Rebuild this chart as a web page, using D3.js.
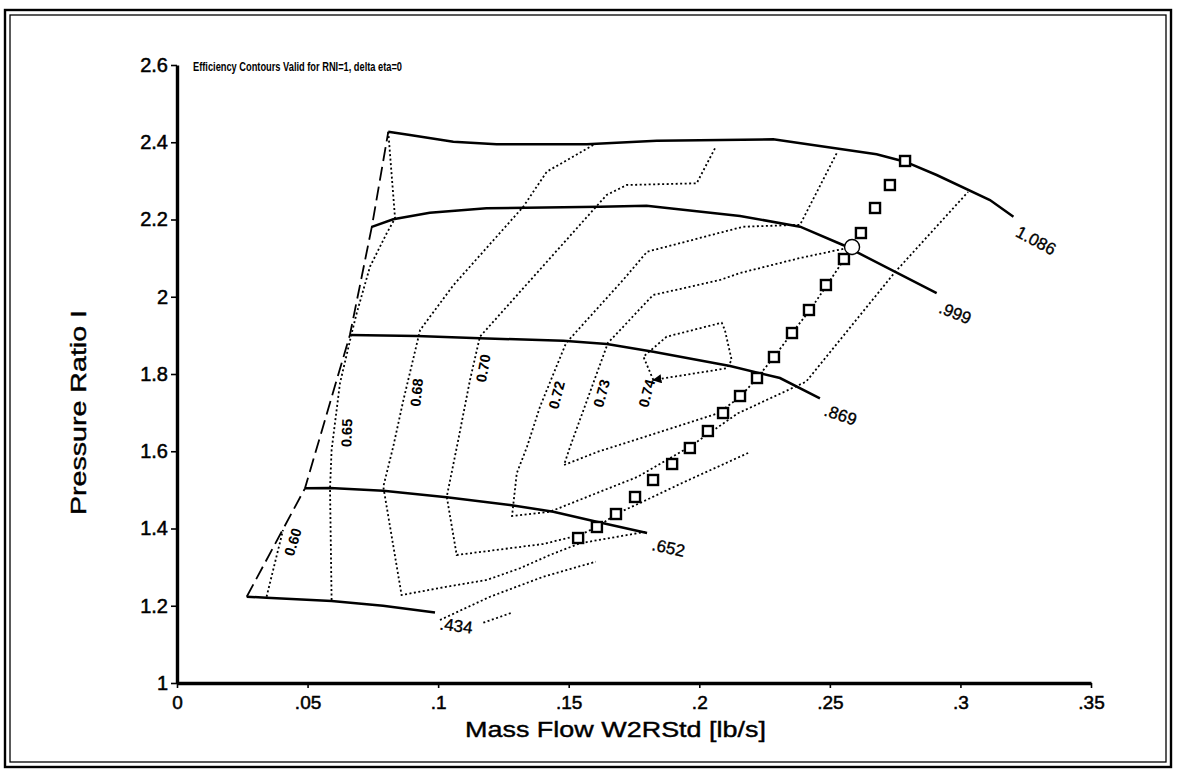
<!DOCTYPE html>
<html><head><meta charset="utf-8">
<script src="https://cdn.jsdelivr.net/npm/d3@7"></script>
<style>body{margin:0;background:#fff}svg{display:block}</style>
</head><body><svg id="c" width="1177" height="775"></svg>
<script>
// ---------- data ----------
const xTicks = [0, 0.05, 0.1, 0.15, 0.2, 0.25, 0.3, 0.35];
const xTickLabels = ["0", ".05", ".1", ".15", ".2", ".25", ".3", ".35"];
const yTicks = [1, 1.2, 1.4, 1.6, 1.8, 2, 2.2, 2.4, 2.6];
const yTickLabels = ["1", "1.2", "1.4", "1.6", "1.8", "2", "2.2", "2.4", "2.6"];

const surgeLine = [[0.0267,1.2234],[0.0490,1.504],[0.0662,1.901],[0.0746,2.181],[0.0809,2.427]];

const speedNames = [".434", ".652", ".869", ".999", "1.086"];
const speed434 = [[0.0267,1.2234],[0.0343,1.2208],[0.0592,1.2123],[0.0789,1.2001],[0.0988,1.1825]];
const speed652 = [[0.0490,1.504],[0.0586,1.5048],[0.0790,1.4979],[0.1033,1.4808],[0.1275,1.4608],[0.1441,1.4435],[0.1607,1.4176],[0.1800,1.3883]];
const speed869 = [[0.0662,1.901],[0.0918,1.8984],[0.1160,1.8924],[0.1479,1.8862],[0.1646,1.8777],[0.1824,1.8577],[0.2118,1.8207],[0.2309,1.7896],[0.2462,1.737]];
const speed999 = [[0.0746,2.181],[0.0828,2.2005],[0.0968,2.2177],[0.1185,2.2291],[0.1620,2.2332],[0.1798,2.2358],[0.2156,2.2091],[0.2386,2.1815],[0.2550,2.1340],[0.2909,2.0091]];
const speed1086 = [[0.0809,2.4273],[0.0892,2.4188],[0.1058,2.4014],[0.1224,2.3947],[0.1569,2.3947],[0.1837,2.404],[0.2283,2.4076],[0.2679,2.3687],[0.2788,2.3496],[0.2909,2.3152],[0.3113,2.2504],[0.3203,2.2072]];

const effNames = ["0.60", "0.65", "0.68", "0.70", "0.72", "0.73", "0.74"];
const eff060 = [[0.0343,1.2234],[0.0406,1.3961]];
const eff060b = [[0.1173,1.1561],[0.1282,1.1820]];
const eff065 = [[0.0809,2.4273],[0.0835,2.2031],[0.0803,2.1643],[0.0739,2.0778],[0.0688,1.9572],[0.0669,1.9054],[0.0624,1.7759],[0.0592,1.6032],[0.0586,1.5041],[0.0592,1.2149]];
const eff065b = [[0.1007,1.1631],[0.1199,1.2234],[0.1403,1.2752],[0.1604,1.3140]];
const eff068 = [[0.1594,2.3929],[0.1416,2.3238],[0.1326,2.2331],[0.1059,2.0304],[0.0931,1.9139],[0.0867,1.7327],[0.0828,1.6118],[0.0790,1.5082],[0.0860,1.2278],[0.1033,1.2493],[0.1186,1.2667],[0.1313,1.2970],[0.1428,1.3314],[0.1543,1.3617],[0.1796,1.3917]];
const eff070 = [[0.2060,2.3843],[0.1990,2.2937],[0.1722,2.2893],[0.1645,2.2634],[0.1160,1.8966],[0.1122,1.7845],[0.1077,1.6291],[0.1033,1.4823],[0.1071,1.3314],[0.1402,1.3599],[0.1543,1.3832],[0.1608,1.4039],[0.1689,1.4401],[0.1773,1.4660],[0.1934,1.5178],[0.2187,1.5955]];
const eff072 = [[0.2526,2.3714],[0.2386,2.1864],[0.2167,2.1812],[0.1800,2.1165],[0.1709,2.0440],[0.1490,1.8803],[0.1390,1.7153],[0.1340,1.6110],[0.1301,1.5429],[0.1283,1.4324],[0.1428,1.4435],[0.1765,1.5341],[0.1964,1.6118],[0.2148,1.6983],[0.2409,1.7801],[0.2750,2.0641],[0.3029,2.2712]];
const eff073 = [[0.2585,2.1288],[0.2386,2.1003],[0.2156,2.0615],[0.2079,2.0434],[0.1823,2.0045],[0.1650,1.8803],[0.1505,1.6110],[0.1482,1.5644],[0.1612,1.5988],[0.1873,1.6550],[0.2072,1.6983],[0.2156,1.7405],[0.2221,1.7896],[0.2286,1.8440],[0.2355,1.9061],[0.2424,1.9657],[0.2489,2.0304],[0.2558,2.1003],[0.2585,2.1288]];
const eff074Loop = [[0.1824,1.7845],[0.1786,1.8448],[0.1875,1.8966],[0.2086,1.9328],[0.2098,1.9139],[0.2124,1.8362],[0.2105,1.8148],[0.1824,1.7845]];
const effLabelAt = [[0.0444,1.3650],[0.0650,1.6473],[0.0918,1.7521],[0.1173,1.8148],[0.1454,1.7456],[0.1626,1.7500],[0.1799,1.7500]];

const opFlow = [0.1536,0.1608,0.1681,0.1754,0.1823,0.1896,0.1964,0.2033,0.2091,0.2156,0.2221,0.2286,0.2355,0.2420,0.2485,0.2554,0.2619,0.2673,0.2730,0.2788];
const opPR   = [1.3754,1.4039,1.4375,1.4816,1.5256,1.5670,1.6084,1.6524,1.6990,1.7430,1.7896,1.8440,1.9061,1.9657,2.0304,2.0977,2.1650,2.2298,2.2893,2.3515];
const designPoint = [0.2585, 2.1288];

const titleText = "Efficiency Contours Valid for RNI=1, delta eta=0";
const xTitle = "Mass Flow W2RStd [lb/s]";
const yTitle = "Pressure Ratio I";

// ---------- drawing ----------
const svg = d3.select("#c");
const FONT = "'Liberation Sans', Arial, sans-serif";
svg.append("rect").attr("width",1177).attr("height",775).attr("fill","#fff");

// frame (double border)
svg.append("rect").attr("x",5).attr("y",10).attr("width",1166).attr("height",757)
  .attr("fill","none").attr("stroke","#000").attr("stroke-width",2.4);
svg.append("rect").attr("x",10).attr("y",15).attr("width",1156).attr("height",747)
  .attr("fill","none").attr("stroke","#000").attr("stroke-width",1.3);

const x = d3.scaleLinear().domain([0, 0.35]).range([177, 1091]);
const y = d3.scaleLinear().domain([1, 2.6]).range([683, 65]);
const line = d3.line().x(d => x(d[0])).y(d => y(d[1]));

// axes
const xAxis = d3.axisBottom(x).tickValues(xTicks).tickFormat((d,i)=>xTickLabels[i]).tickSize(5).tickSizeOuter(0);
const gx = svg.append("g").attr("transform","translate(0,683)").call(xAxis);
gx.select(".domain").attr("stroke-width",3.4);
gx.selectAll(".tick line").attr("stroke-width",1.6);
gx.selectAll("text").attr("font-family",FONT).attr("font-size",19).attr("fill","#000")
  .attr("stroke","#000").attr("stroke-width",0.5).attr("dy","0.95em");

const yAxis = d3.axisLeft(y).tickValues(yTicks).tickFormat((d,i)=>yTickLabels[i]).tickSize(6).tickSizeOuter(0);
const gy = svg.append("g").attr("transform","translate(177,0)").call(yAxis);
gy.select(".domain").attr("stroke-width",3.4);
gy.selectAll(".tick line").attr("stroke-width",1.6);
gy.selectAll("text").attr("font-family",FONT).attr("font-size",20).attr("fill","#000")
  .attr("stroke","#000").attr("stroke-width",0.5).attr("x",-9);

// titles
svg.append("text").attr("x",193).attr("y",71).attr("font-family",FONT).attr("font-size",13)
  .attr("font-weight","bold").attr("textLength",209).attr("lengthAdjust","spacingAndGlyphs").text(titleText);
svg.append("text").attr("x",465).attr("y",737).attr("font-family",FONT).attr("font-size",22)
  .attr("stroke","#000").attr("stroke-width",0.4)
  .attr("textLength",301).attr("lengthAdjust","spacingAndGlyphs").text(xTitle);
svg.append("text").attr("transform","translate(86,515) rotate(-90)").attr("font-family",FONT).attr("font-size",22)
  .attr("stroke","#000").attr("stroke-width",0.4)
  .attr("textLength",205).attr("lengthAdjust","spacingAndGlyphs").text(yTitle);

const plot = svg.append("g");

// efficiency contours (dotted)
const dotted = [eff060, eff060b, eff065, eff065b, eff068, eff070, eff072, eff073];
plot.selectAll("path.eff").data(dotted).join("path").attr("class","eff")
  .attr("d", line).attr("fill","none").attr("stroke","#000").attr("stroke-width",1.8)
  .attr("stroke-dasharray","2,2.5");

// 0.74 island with arrow head
svg.append("defs").append("marker").attr("id","arr").attr("viewBox","0 0 10 10")
  .attr("refX",9).attr("refY",5).attr("markerWidth",9).attr("markerHeight",9)
  .attr("markerUnits","userSpaceOnUse").attr("orient","auto")
  .append("path").attr("d","M0,0 L10,5 L0,10 z").attr("fill","#000");
plot.append("path").attr("d", line(eff074Loop)).attr("fill","none").attr("stroke","#000")
  .attr("stroke-width",1.8).attr("stroke-dasharray","2,2.5").attr("marker-end","url(#arr)");

// surge line (dashed)
plot.append("path").attr("d", line(surgeLine)).attr("fill","none").attr("stroke","#000")
  .attr("stroke-width",1.8).attr("stroke-dasharray","14,6");

// speed lines (solid)
const speeds = [speed434, speed652, speed869, speed999, speed1086];
plot.selectAll("path.spd").data(speeds).join("path").attr("class","spd")
  .attr("d", line).attr("fill","none").attr("stroke","#000").attr("stroke-width",2.5);

// speed labels (positioned off the end of each line)
const speedLabelStyle = [{dx:4,dy:17,rot:7},{dx:4,dy:17,rot:12},{dx:3,dy:17,rot:18},{dx:1,dy:19,rot:22},{dx:1,dy:19,rot:28}];
speeds.forEach((s,i) => {
  const e = s[s.length-1], st = speedLabelStyle[i];
  const px = x(e[0]) + st.dx, py = y(e[1]) + st.dy;
  svg.append("text").attr("transform",`translate(${px},${py}) rotate(${st.rot})`)
    .attr("font-family",FONT).attr("font-size",17).attr("stroke","#000").attr("stroke-width",0.35)
    .text(speedNames[i]);
});

// efficiency labels
const effLabelRot = [-73,-88,-84,-80,-75,-75,-75];
effNames.forEach((n,i) => {
  const p = effLabelAt[i];
  svg.append("text").attr("transform",`translate(${x(p[0])},${y(p[1])}) rotate(${effLabelRot[i]})`)
    .attr("text-anchor","middle").attr("dominant-baseline","central")
    .attr("font-family",FONT).attr("font-size",14.5).attr("font-weight","bold").text(n);
});

// operating points (squares) and design point (circle)
const ops = opFlow.map((f,i)=>[f, opPR[i]]);
plot.selectAll("rect.op").data(ops).join("rect").attr("class","op")
  .attr("x", d=>x(d[0])-5).attr("y", d=>y(d[1])-5).attr("width",10).attr("height",10)
  .attr("fill","#fff").attr("stroke","#000").attr("stroke-width",2.4);
plot.append("circle").attr("cx", x(designPoint[0])).attr("cy", y(designPoint[1])).attr("r",7.5)
  .attr("fill","#fff").attr("stroke","#000").attr("stroke-width",1.4);
</script></body></html>
